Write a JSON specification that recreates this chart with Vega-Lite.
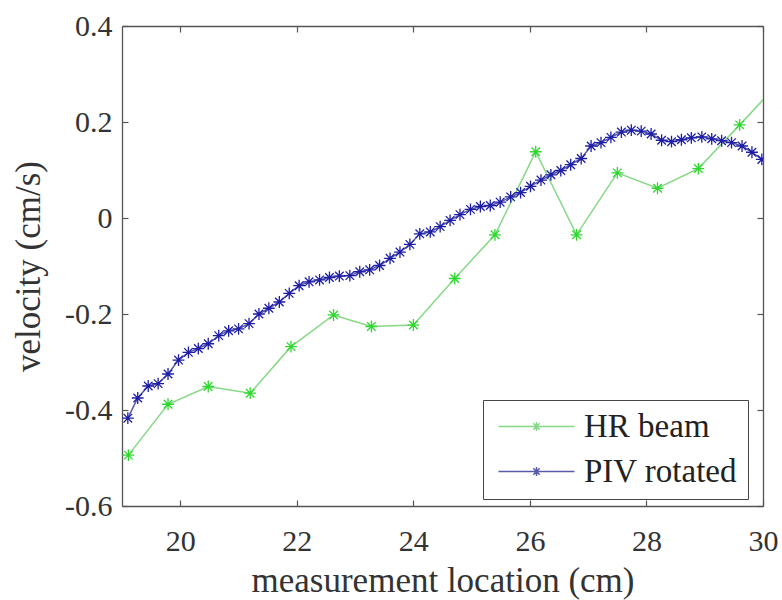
{
  "$schema": "https://vega.github.io/schema/vega-lite/v6.json",
  "width": 641,
  "height": 480,
  "autosize": {"type": "none"},
  "padding": {"left": 122, "top": 26, "right": 19, "bottom": 94},
  "background": "white",
  "config": {
    "view": {"stroke": null},
    "font": "'Liberation Serif', 'DejaVu Serif', serif",
    "axis": {
      "labelFont": "'Liberation Serif', 'DejaVu Serif', serif",
      "labelFontSize": 30,
      "labelColor": "#333",
      "titleFont": "'Liberation Serif', 'DejaVu Serif', serif",
      "titleFontWeight": "normal",
      "titleColor": "#333",
      "domainColor": "#555",
      "domainWidth": 1.3,
      "tickColor": "#555",
      "tickWidth": 1.2,
      "tickSize": -6,
      "grid": false,
      "labelFlush": false,
      "labelOverlap": false
    }
  },
  "data": {
    "values": [
      {"series": "HR beam", "x": 19.11, "v": -0.494},
      {"series": "HR beam", "x": 19.79, "v": -0.388},
      {"series": "HR beam", "x": 20.48, "v": -0.351},
      {"series": "HR beam", "x": 21.2, "v": -0.365},
      {"series": "HR beam", "x": 21.9, "v": -0.268},
      {"series": "HR beam", "x": 22.63, "v": -0.202},
      {"series": "HR beam", "x": 23.28, "v": -0.226},
      {"series": "HR beam", "x": 24.0, "v": -0.223},
      {"series": "HR beam", "x": 24.71, "v": -0.126},
      {"series": "HR beam", "x": 25.4, "v": -0.035},
      {"series": "HR beam", "x": 26.1, "v": 0.138},
      {"series": "HR beam", "x": 26.8, "v": -0.035},
      {"series": "HR beam", "x": 27.5, "v": 0.094},
      {"series": "HR beam", "x": 28.19, "v": 0.062},
      {"series": "HR beam", "x": 28.89, "v": 0.103},
      {"series": "HR beam", "x": 29.6, "v": 0.194},
      {"series": "HR beam", "x": 30.3, "v": 0.285},
      {"series": "PIV rotated", "x": 19.10, "v": -0.417},
      {"series": "PIV rotated", "x": 19.27, "v": -0.375},
      {"series": "PIV rotated", "x": 19.45, "v": -0.350},
      {"series": "PIV rotated", "x": 19.62, "v": -0.345},
      {"series": "PIV rotated", "x": 19.79, "v": -0.325},
      {"series": "PIV rotated", "x": 19.97, "v": -0.296},
      {"series": "PIV rotated", "x": 20.14, "v": -0.280},
      {"series": "PIV rotated", "x": 20.31, "v": -0.272},
      {"series": "PIV rotated", "x": 20.48, "v": -0.262},
      {"series": "PIV rotated", "x": 20.66, "v": -0.245},
      {"series": "PIV rotated", "x": 20.83, "v": -0.235},
      {"series": "PIV rotated", "x": 21.00, "v": -0.231},
      {"series": "PIV rotated", "x": 21.18, "v": -0.220},
      {"series": "PIV rotated", "x": 21.35, "v": -0.200},
      {"series": "PIV rotated", "x": 21.52, "v": -0.188},
      {"series": "PIV rotated", "x": 21.70, "v": -0.175},
      {"series": "PIV rotated", "x": 21.87, "v": -0.157},
      {"series": "PIV rotated", "x": 22.04, "v": -0.141},
      {"series": "PIV rotated", "x": 22.21, "v": -0.133},
      {"series": "PIV rotated", "x": 22.39, "v": -0.129},
      {"series": "PIV rotated", "x": 22.56, "v": -0.124},
      {"series": "PIV rotated", "x": 22.73, "v": -0.121},
      {"series": "PIV rotated", "x": 22.91, "v": -0.120},
      {"series": "PIV rotated", "x": 23.08, "v": -0.112},
      {"series": "PIV rotated", "x": 23.25, "v": -0.108},
      {"series": "PIV rotated", "x": 23.42, "v": -0.099},
      {"series": "PIV rotated", "x": 23.60, "v": -0.084},
      {"series": "PIV rotated", "x": 23.77, "v": -0.071},
      {"series": "PIV rotated", "x": 23.94, "v": -0.055},
      {"series": "PIV rotated", "x": 24.11, "v": -0.033},
      {"series": "PIV rotated", "x": 24.29, "v": -0.029},
      {"series": "PIV rotated", "x": 24.46, "v": -0.018},
      {"series": "PIV rotated", "x": 24.63, "v": -0.005},
      {"series": "PIV rotated", "x": 24.80, "v": 0.007},
      {"series": "PIV rotated", "x": 24.98, "v": 0.018},
      {"series": "PIV rotated", "x": 25.15, "v": 0.024},
      {"series": "PIV rotated", "x": 25.32, "v": 0.026},
      {"series": "PIV rotated", "x": 25.49, "v": 0.033},
      {"series": "PIV rotated", "x": 25.67, "v": 0.044},
      {"series": "PIV rotated", "x": 25.84, "v": 0.053},
      {"series": "PIV rotated", "x": 26.01, "v": 0.066},
      {"series": "PIV rotated", "x": 26.19, "v": 0.079},
      {"series": "PIV rotated", "x": 26.36, "v": 0.090},
      {"series": "PIV rotated", "x": 26.53, "v": 0.099},
      {"series": "PIV rotated", "x": 26.70, "v": 0.111},
      {"series": "PIV rotated", "x": 26.88, "v": 0.124},
      {"series": "PIV rotated", "x": 27.05, "v": 0.150},
      {"series": "PIV rotated", "x": 27.22, "v": 0.157},
      {"series": "PIV rotated", "x": 27.39, "v": 0.168},
      {"series": "PIV rotated", "x": 27.57, "v": 0.179},
      {"series": "PIV rotated", "x": 27.74, "v": 0.183},
      {"series": "PIV rotated", "x": 27.91, "v": 0.181},
      {"series": "PIV rotated", "x": 28.08, "v": 0.175},
      {"series": "PIV rotated", "x": 28.26, "v": 0.162},
      {"series": "PIV rotated", "x": 28.43, "v": 0.159},
      {"series": "PIV rotated", "x": 28.60, "v": 0.163},
      {"series": "PIV rotated", "x": 28.77, "v": 0.167},
      {"series": "PIV rotated", "x": 28.95, "v": 0.169},
      {"series": "PIV rotated", "x": 29.12, "v": 0.165},
      {"series": "PIV rotated", "x": 29.29, "v": 0.161},
      {"series": "PIV rotated", "x": 29.46, "v": 0.157},
      {"series": "PIV rotated", "x": 29.64, "v": 0.150},
      {"series": "PIV rotated", "x": 29.81, "v": 0.137},
      {"series": "PIV rotated", "x": 29.98, "v": 0.122}
    ]
  },
  "layer": [
    {
      "mark": {"type": "line", "strokeWidth": 1.5, "clip": true},
      "encoding": {
        "x": {
          "field": "x",
          "type": "quantitative",
          "scale": {"domain": [19, 30], "nice": false, "zero": false},
          "axis": {
            "orient": "bottom",
            "values": [20, 22, 24, 26, 28, 30],
            "title": "measurement location (cm)",
            "titleFontSize": 35,
            "labelPadding": 26,
            "titlePadding": 7
          }
        },
        "y": {
          "field": "v",
          "type": "quantitative",
          "scale": {"domain": [-0.6, 0.4], "nice": false, "zero": false},
          "axis": {
            "orient": "left",
            "values": [-0.6, -0.4, -0.2, 0, 0.2, 0.4],
            "labelExpr": "toString(datum.value)",
            "title": "velocity (cm/s)",
            "titleFontSize": 35,
            "labelPadding": 16,
            "titlePadding": 18
          }
        },
        "color": {
          "field": "series",
          "type": "nominal",
          "scale": {"domain": ["HR beam", "PIV rotated"], "range": ["#86d886", "#5a5aaa"]},
          "legend": {
            "title": null,
            "orient": "none",
            "legendX": 361,
            "legendY": 374,
            "symbolType": "M-7.6,0L7.6,0M-0.9,0L0.9,0M0,-0.9L0,0.9M-0.64,-0.64L0.64,0.64M-0.64,0.64L0.64,-0.64",
            "symbolSize": 100,
            "symbolStrokeWidth": 1.5,
            "symbolOffset": 27,
            "labelOffset": 31,
            "labelFont": "'Liberation Serif', 'DejaVu Serif', serif",
            "labelFontSize": 33,
            "labelColor": "#222",
            "strokeColor": "#444",
            "fillColor": "white",
            "padding": 10,
            "rowPadding": 11
          }
        }
      }
    },
    {
      "mark": {
        "type": "point",
        "shape": "M-1,0L1,0M0,-1L0,1M-0.72,-0.72L0.72,0.72M-0.72,0.72L0.72,-0.72",
        "filled": false,
        "size": 140,
        "strokeWidth": 1.3,
        "opacity": 1,
        "clip": true
      },
      "encoding": {
        "x": {
          "field": "x",
          "type": "quantitative",
          "axis": {"orient": "top", "values": [20, 22, 24, 26, 28, 30], "labels": false, "title": null}
        },
        "y": {
          "field": "v",
          "type": "quantitative",
          "axis": {"orient": "right", "values": [-0.6, -0.4, -0.2, 0, 0.2, 0.4], "labels": false, "title": null}
        },
        "stroke": {
          "field": "series",
          "type": "nominal",
          "scale": {"domain": ["HR beam", "PIV rotated"], "range": ["#2ed82e", "#1e1ea6"]},
          "legend": null
        }
      }
    }
  ],
  "resolve": {"axis": {"x": "independent", "y": "independent"}}
}
